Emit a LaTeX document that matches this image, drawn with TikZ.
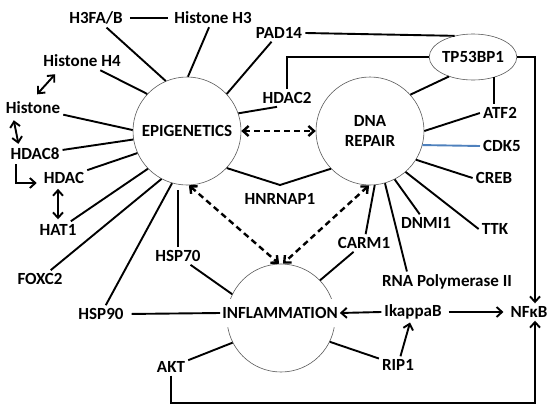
\documentclass[tikz,border=0pt]{standalone}
\usepackage{fontspec}
\setmainfont{Carlito}
\usetikzlibrary{shapes.geometric,arrows.meta}
\definecolor{cdkblue}{RGB}{79,129,189}
\tikzset{
    hub/.style={circle,draw=black!65,line width=0.6pt,minimum size=108pt,inner sep=0pt},
    link/.style={line width=1.9pt},
    dlink/.style={line width=2.4pt,dash pattern=on 6pt off 4pt,<->},
}

\begin{document}
\begin{tikzpicture}[x=1pt,y=-1pt,>={Straight Barb[length=5.5pt,width=10pt]},
        every node/.style={font=\fontsize{17}{20}\selectfont\bfseries,inner sep=3pt}]
                        \useasboundingbox (0,0) rectangle (554,410);

                        \node[hub] (epi) at (187,131) {EPIGENETICS};
                        \node[hub,align=center] (dna) at (370,131) {DNA\\REPAIR};
                        \node[hub] (infl) at (281,318) {};
                        \node[fill=white,inner xsep=2pt,inner ysep=8pt] (inflt) at (280,313) {INFLAMMATION};
                        \node[ellipse,draw=black!65,line width=0.6pt,minimum width=74pt,minimum height=46pt,inner sep=0pt] (tp) at (473,57) {TP53BP1};

                        \node (h3fab) at (96,18) {H3FA/B};
                        \node (h3) at (213,18) {Histone H3};
                        \node (pad) at (279,33) {PAD14};
                        \node (h4) at (82,61) {Histone H4};
                        \node (histone) at (33,108) {Histone};
                        \node (hdac8) at (35,154) {HDAC8};
                        \node (hdac) at (64,178) {HDAC};
                        \node (hat1) at (58,230) {HAT1};
                        \node (foxc2) at (40,279) {FOXC2};
                        \node (hsp90) at (101,314) {HSP90};
                        \node (hsp70) at (178,256) {HSP70};
                        \node (akt) at (171,367) {AKT};
                        \node (hdac2) at (287,98) {HDAC2};
                        \node (hnrnap) at (280,199) {HNRNAP1};
                        \node (atf2) at (500,113) {ATF2};
                        \node (cdk5) at (502,146) {CDK5};
                        \node (creb) at (494,178) {CREB};
                        \node (ttk) at (495,229) {TTK};
                        \node (dnmi) at (426,223) {DNMI1};
                        \node (carm) at (364,243) {CARM1};
                        \node (rnapol) at (447,282) {RNA Polymerase II};
                        \node (ikb) at (413,312) {IkappaB};
                        \node (nfkb) at (529,312) {NFκB};
                        \node (rip) at (398,365) {RIP1};

                        \coordinate (vtip) at (280,185);
                        \coordinate (bend) at (535,403);

                        \draw[link,shorten <=4pt,shorten >=3pt] (h3fab.east) -- (h3.west);
                        \draw[link] (h3fab) -- (epi.113);
                        \draw[link] (h3) -- (epi.89);
                        \draw[link] (pad) -- (epi.43);
                        \draw[link] (pad.east) -- (tp.131);
                        \draw[link] (h4) -- (epi.137);
                        \draw[link,<->,shorten <=6pt] (histone.north) -- ([xshift=15pt,yshift=-4pt]h4.south west);
                        \draw[link] (histone) -- (epi.179);
                        \draw[link,<->] ([xshift=11pt,yshift=-3pt]histone.south west) -- ([xshift=11pt,yshift=1pt]hdac8.north west);
                        \draw[link] (hdac8) -- (epi.189);
                        \draw[link,->] ([xshift=9pt,yshift=-1pt]hdac8.south west) |- ([xshift=-4pt,yshift=-5pt]hdac.west);
                        \draw[link] (hdac) -- (epi.204);
                        \draw[link,<->] ([yshift=-2pt]hat1.north |- hdac.south) -- ([yshift=2pt]hat1.north);
                        \draw[link] (hat1) -- (epi.224);
                        \draw[link] (foxc2) -- (epi.242);
                        \draw[link] (hsp90) -- (epi.254);
                        \draw[link,shorten >=5pt] (hsp70.north) -- (hsp70.north |- epi.262);
                        \draw[link] (hsp70) -- (infl.154);
                        \draw[link,shorten <=5pt] (hsp90.east) -- (inflt.west);
                        \draw[link] (akt) -- (infl.207);
                        \draw[link,->] (akt.south) |- (bend) -- ([xshift=6pt]nfkb.south);
                        \draw[link] ([xshift=-10pt]hdac2.south) -- (epi.19);
                        \draw[link] (hdac2.north) |- (tp.west);
                        \draw[link] (epi.317) -- (vtip) -- (dna.224);

                        \draw[dlink] (epi.east) -- (dna.west);
                        \draw[dlink] (epi.272) -- (infl.92);
                        \draw[dlink] (dna.269) -- (infl.88);

                        \draw[link] (tp.219) -- (dna.42);
                        \draw[link] (tp.-44) -- (tp.-44 |- atf2.north);
                        \draw[link,->] (tp.east) -| ([xshift=6pt]nfkb.north);
                        \draw[link] (atf2.west) -- (dna.0);
                        \draw[link,cdkblue] (cdk5.west) -- (dna.345);
                        \draw[link] (creb.west) -- (dna.328);
                        \draw[link] (ttk.west) -- (dna.311);
                        \draw[link] (dnmi) -- (dna.297);
                        \draw[link] ([xshift=28pt]rnapol.north west) -- (dna.286);
                        \draw[link] (carm) -- (dna.275);
                        \draw[link] (carm) -- (infl.44);

                        \draw[link,->] (ikb.west) -- (inflt.east);
                        \draw[link,->,shorten <=4pt,shorten >=4pt] (ikb.east) -- (nfkb.west);
                        \draw[link,->] (rip) -- (ikb);
                        \draw[link] (rip) -- (infl.334);
                    \end{tikzpicture}
\end{document}
